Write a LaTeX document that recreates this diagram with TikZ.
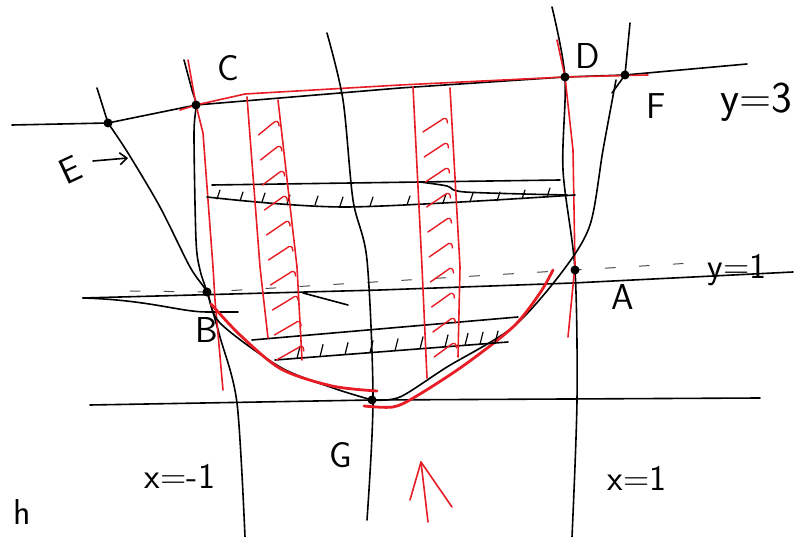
\documentclass[tikz,border=0pt]{standalone}
\usepackage{tikz}
\usetikzlibrary{positioning,arrows.meta}

\definecolor{ink}{RGB}{232,28,36}

\begin{document}
\begin{tikzpicture}[
  x=1pt, y=-1pt,
  font=\sffamily\fontsize{36}{40}\selectfont,
  pen/.style={line width=1.6pt, line cap=round, line join=round},
  redpen/.style={pen, color=ink},
  fatred/.style={redpen, line width=2.8pt},
  tick/.style={pen, line width=1.2pt},
  rtick/.style={redpen, line width=1.4pt},
  dashy/.style={pen, line width=1pt, dash pattern=on 10pt off 24pt, color=black!70},
  lab/.style={inner sep=1pt},
  biglab/.style={inner sep=1pt, font=\sffamily\fontsize{44}{48}\selectfont},
]
\useasboundingbox (0,0) rectangle (809,537);

\coordinate (E) at (108,123);
\coordinate (C) at (196,105);
\coordinate (D) at (565,77);
\coordinate (F) at (625,75);
\coordinate (A) at (575,270);
\coordinate (B) at (207,292);
\coordinate (G) at (372,400);

% lines y=3, y=1, y=0
\draw[pen] (12,125) -- (E) -- (C) -- (400,88) -- (D) -- (F) -- (747,64);
\draw[redpen] (180,110) -- (C) -- (245,94) -- (400,85) -- (D) -- (648,75);
\draw[pen] (83,298) -- (380,290) -- (573,283) -- (793,272);
\draw[dashy] (130,291) -- (B) -- (A) -- (692,263);
\draw[pen] (83,298) .. controls (150,300) and (180,312) .. (207,312) -- (238,312);
\draw[pen] (303,293) -- (348,305);
\draw[pen] (90,405) -- (G) -- (760,398);

% lines x=-1, x=0, x=1
\draw[pen] plot[smooth] coordinates {(184,60) (192,90) (C) (194,135) (196,240) (200,270) (B) (220,337) (237,403) (245,537)};
\draw[redpen] (188,60) -- (C) -- (203,133) -- (213,267) -- (215,300) -- (223,390);
\draw[pen] plot[smooth] coordinates {(327,33) (343,100) (353,200) (367,260) (373,400) (367,520)};
\draw[pen] plot[smooth] coordinates {(552,7) (D) (563,170) (A) (577,400) (572,537)};
\draw[redpen] (557,40) -- (D) -- (573,150) -- (575,265) -- (568,337);

% curves
\draw[pen] (97,88) -- (E);
\draw[pen] plot[smooth] coordinates {(E) (128,153) (160,207) (190,267) (B) (220,323) (280,367) (333,388) (G)};
\draw[pen] (630,23) -- (F) -- (612,93);
\draw[pen] plot[smooth] coordinates {(616,80) (603,150) (590,225) (562,272) (513,327) (447,367) (400,397) (G)};
\draw[fatred] plot[smooth] coordinates {(211,304) (240,335) (281,369) (332,386) (377,391)};
\draw[fatred] plot[smooth] coordinates {(364,406) (393,407) (415,397) (463,366) (513,327) (540,293) (553,270)};

% horizontal strips
\draw[pen] (212,185) -- (420,182) -- (560,180);
\draw[pen] plot[smooth] coordinates {(207,197) (347,207) (575,195)};
\draw[pen] plot[smooth] coordinates {(420,182) (447,186) (465,192) (567,195)};
\foreach \x/\y in {217/199,240/201,262/202,287/204,315/205,340/206,370/206,407/205,443/203,470/202,497/201,522/199,547/197}
  \draw[tick] (\x,\y) -- ++(3,-9);
\draw[pen] (252,340) -- (518,317);
\draw[pen] (275,360) -- (508,342);
\foreach \x in {297,320,345,370,395,420,445,465,480,495}
  \draw[tick] (\x,{360-(\x-275)*0.077}) -- ++(3,-12);

% vertical strips
\draw[redpen] (247,97) -- (260,267) -- (268,338);
\draw[redpen] (278,100) -- (297,267) -- (302,360);
\draw[redpen] (413,87) -- (422,267) -- (427,378);
\draw[redpen] (450,88) -- (460,267) -- (458,357);
\foreach \y in {128,153,...,353} {
  \pgfmathsetmacro\xa{251+(\y-97)*0.08}
  \pgfmathsetmacro\xb{276+(\y-100)*0.11}
  \draw[rtick] (\xa+5,\y+7) -- (\xb-6,\y-5) .. controls (\xb-3,\y-8) and (\xb,\y-7) .. (\xb,\y-2);
}
\foreach \y in {125,150,...,350} {
  \pgfmathsetmacro\xc{413+(\y-87)*0.05}
  \pgfmathsetmacro\xd{450+(\y-88)*0.04}
  \draw[rtick] (\xc+8,\y+7) -- (\xd-10,\y-5) .. controls (\xd-7,\y-8) and (\xd-4,\y-7) .. (\xd-4,\y-2);
}

% points
\foreach \p in {E,C,D,F,A,B,G}
  \fill (\p) circle (4.5);

% labels
\node[lab] (labC) at (228,68) {C};
\node[lab] (labD) at (588,56) {D};
\node[lab] (labF) at (656,106) {F};
\node[lab, rotate=25] (labE) at (70,170) {E};
\coordinate (Eto) at (128,158);
\draw[pen, -{Straight Barb[length=7pt,width=12pt]}] (93,161) -- (Eto);
\node[biglab] (yThree) at (756,102) {y=3};
\node[lab] (yOne) at (737,270) {y=1};
\node[lab] (labA) at (623,297) {A};
\node[lab] (labB) at (207,330) {B};
\node[lab] (labG) at (341,455) {G};
\node[lab] (xMinus) at (180,476) {x=-1};
\node[lab] (xPlus) at (637,478) {x=1};
\node[lab] (labH) at (22,512) {h};

% red arrow
\coordinate (tip) at (421,462);
\draw[redpen] (428,522) -- (tip);
\draw[redpen] (410,500) -- (tip) -- (452,507);

\end{tikzpicture}
\end{document}
